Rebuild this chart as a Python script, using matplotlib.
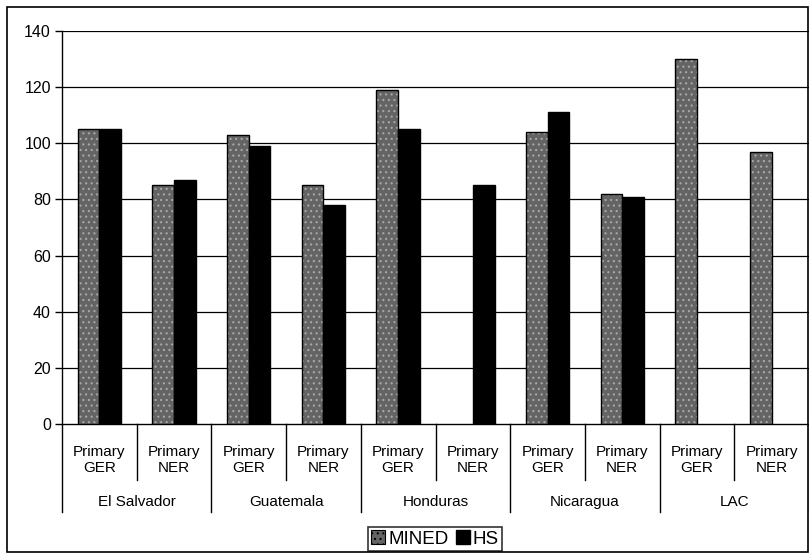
import numpy as np
import matplotlib
matplotlib.use("Agg")
import matplotlib.pyplot as plt
from matplotlib.patches import Patch, Rectangle
import matplotlib.transforms as mtransforms

countries = ["El Salvador", "Guatemala", "Honduras", "Nicaragua", "LAC"]
indicators = ["Primary\nGER", "Primary\nNER"]
mined = [105, 85, 103, 85, 119, np.nan, 104, 82, 130, 97]
hs = [105, 87, 99, 78, 105, 85, 111, 81, np.nan, np.nan]
yticks = [0, 20, 40, 60, 80, 100, 120, 140]

plt.rcParams['font.family'] = ['Liberation Sans', 'DejaVu Sans']

W, H = 809, 555
fig = plt.figure(figsize=(W / 100, H / 100), dpi=100)
fig.patch.set_facecolor('white')

# outer frame
fig.patches.append(Rectangle((7 / W, 1 - 552 / H), 801 / W, 545 / H, transform=fig.transFigure,
                             fill=False, edgecolor='black', linewidth=1.2))

ax = fig.add_axes([62 / W, 1 - 424 / H, 747 / W, 393 / H])
n = len(mined)
x = np.arange(n) + 0.5
bw = 0.29
mined_face = '#646464'
dot_col = '#a8a8a8'
plt.rcParams['hatch.linewidth'] = 0.8

for xi, v in zip(x, mined):
    if np.isnan(v):
        continue
    ax.bar(xi - bw / 2, v, bw, color=mined_face, hatch='...', edgecolor=dot_col, linewidth=0, zorder=3)
    ax.bar(xi - bw / 2, v, bw, fill=False, edgecolor='black', linewidth=1.0, zorder=4)
for xi, v in zip(x, hs):
    if np.isnan(v):
        continue
    ax.bar(xi + bw / 2, v, bw, color='black', edgecolor='black', linewidth=1.0, zorder=3)

ax.set_xlim(0, n)
ax.set_ylim(0, 140)
ax.set_yticks(yticks)
ax.set_yticklabels([str(t) for t in yticks], fontsize=11.5)
ax.tick_params(axis='y', direction='out', length=5, width=1, pad=3)
ax.set_xticks([])
for t in yticks[1:]:
    ax.axhline(t, color='black', linewidth=0.9, zorder=1)
ax.spines['top'].set_visible(False)
ax.spines['right'].set_visible(False)
ax.spines['left'].set_linewidth(1.0)
ax.spines['bottom'].set_linewidth(1.0)

trans = mtransforms.blended_transform_factory(ax.transData, ax.transAxes)
y_short = -(480 - 424) / 393
y_long = -(512 - 424) / 393
for i in range(n + 1):
    ylow = y_long if i % 2 == 0 else y_short
    ax.plot([i, i], [0, ylow], transform=trans, color='black', linewidth=1.0, clip_on=False)

for i, xi in enumerate(x):
    ax.text(xi, -(460 - 424) / 393, indicators[i % 2], transform=trans, ha='center', va='center',
            fontsize=11, linespacing=1.15)
for j, c in enumerate(countries):
    ax.text(2 * j + 1, -(502 - 424) / 393, c, transform=trans, ha='center', va='center', fontsize=11)

plt.rcParams['hatch.color'] = dot_col
handles = [Patch(facecolor=mined_face, hatch='...', edgecolor='black', linewidth=0.8),
           Patch(facecolor='black', edgecolor='black')]
leg = fig.legend(handles, ['MINED', 'HS'], loc='center', bbox_to_anchor=(435 / W, 1 - 539 / H),
                 ncol=2, fontsize=13.5, frameon=True, fancybox=False, handlelength=0.75, handleheight=0.75,
                 handletextpad=0.15, columnspacing=0.4, borderpad=0.15, borderaxespad=0)
leg.get_frame().set_edgecolor('black')
leg.get_frame().set_linewidth(1.2)

fig.savefig('out.png', dpi=100)
